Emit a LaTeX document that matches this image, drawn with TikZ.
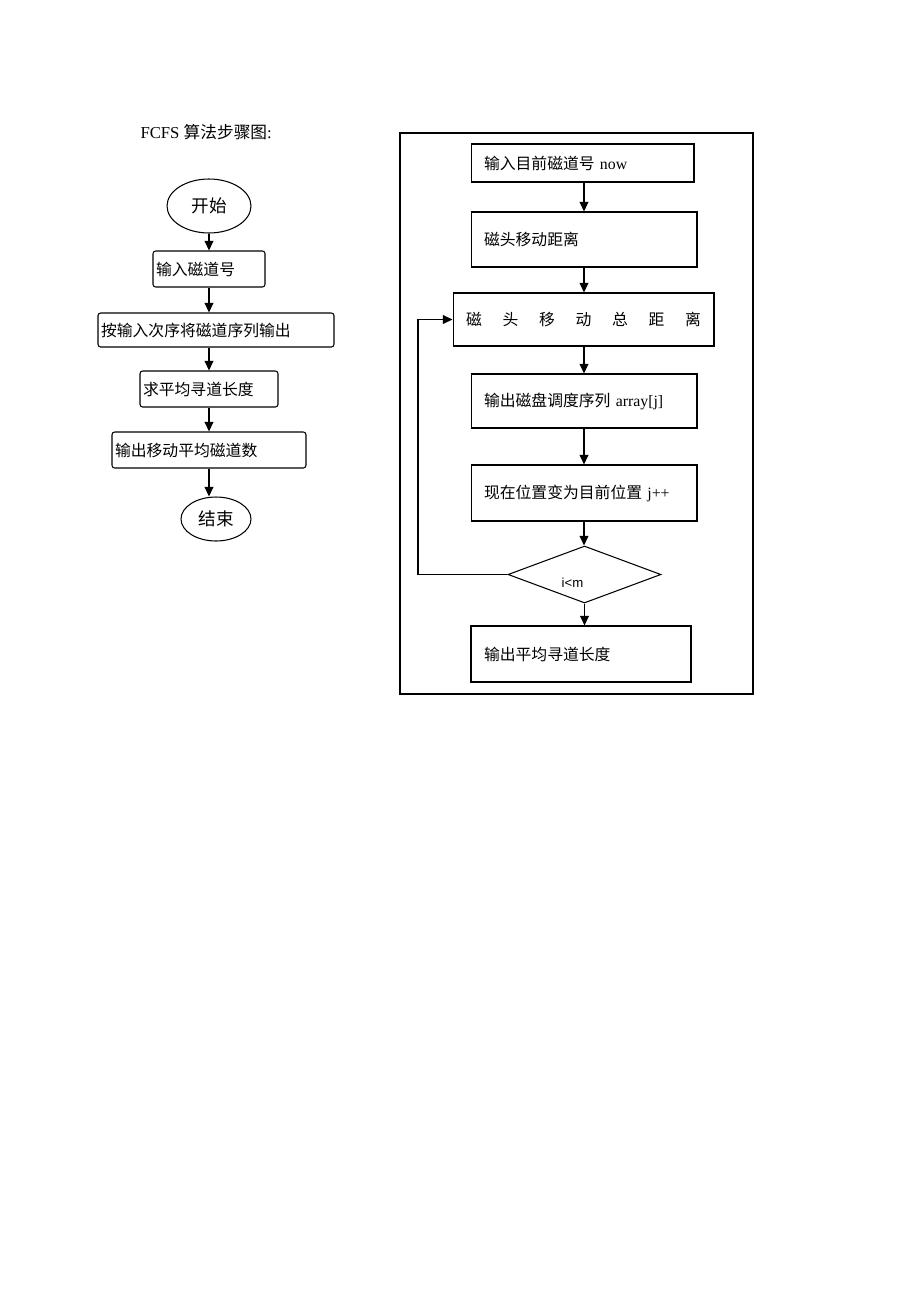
\documentclass[tikz,border=0pt]{standalone}
\usepackage{fontspec}
\setmainfont{Liberation Serif}
\newfontfamily\cjk{Noto Sans CJK SC}
\newfontfamily\sansf{Liberation Sans}
\usetikzlibrary{arrows.meta,shapes.geometric}
\tikzset{
  lbox/.style={draw, rounded corners=1.5pt, align=left, inner xsep=0.06cm, font=\fontsize{9}{11}\selectfont\cjk},
  rbox/.style={draw, align=left, inner xsep=0.26cm, font=\fontsize{9}{11}\selectfont},
  oval/.style={draw, ellipse, inner sep=0pt, font=\fontsize{10}{12}\selectfont\cjk},
  arr/.style={-{Triangle[length=5.5pt,width=5pt]}, line width=0.8pt}
}
\begin{document}
\begin{tikzpicture}[x=0.02cm, y=-0.02cm, line width=0.6pt]
\useasboundingbox (0,0) rectangle (920,1302);

\node[anchor=west, inner sep=0pt, font=\fontsize{9.5}{11}\selectfont] (title) at (140,132) {FCFS {\cjk 算法步骤图}:};

\node[oval, minimum width=1.68cm, minimum height=1.08cm] (start) at (209,206) {开始};
\node[lbox, text width=2.12cm, minimum height=0.72cm] (b1) at (209,269) {输入磁道号};
\node[lbox, text width=4.6cm, minimum height=0.68cm] (b2) at (216,330) {按输入次序将磁道序列输出};
\node[lbox, text width=2.64cm, minimum height=0.72cm] (b3) at (209,389) {求平均寻道长度};
\node[lbox, text width=3.76cm, minimum height=0.72cm] (b4) at (209,450) {输出移动平均磁道数};
\node[oval, minimum width=1.4cm, minimum height=0.88cm] (end) at (216,519) {结束};

\draw[arr] (start) -- (b1);
\draw[arr] (b1.south) -- (b1.south |- b2.north);
\draw[arr] (b3.north |- b2.south) -- (b3.north);
\draw[arr] (b3) -- (b4);
\draw[arr] (b4.south) -- (b4.south |- end.north);

\draw (400,133) rectangle (753,694);

\node[rbox, text width=3.94cm, minimum height=0.76cm] (now) at (582.5,163) {{\cjk 输入目前磁道号} now};
\node[rbox, text width=4.0cm, minimum height=1.1cm] (dist) at (584,239.5) {\cjk 磁头移动距离};
\node[rbox, text width=4.7cm, minimum height=1.06cm] (total) at (583.5,319.5) {\cjk 磁\hfill 头\hfill 移\hfill 动\hfill 总\hfill 距\hfill 离};
\node[rbox, text width=4.0cm, minimum height=1.08cm] (seq) at (584,401) {{\cjk 输出磁盘调度序列} array[j]};
\node[rbox, text width=4.0cm, minimum height=1.12cm] (pos) at (584,493) {{\cjk 现在位置变为目前位置} j++};
\node[draw, diamond, inner sep=0pt, minimum width=3.06cm, minimum height=1.14cm,
  label={[shift={(-12,8)}, font=\fontsize{7.5}{9}\selectfont\sansf]center:i<m}] (cond) at (584.5,574.5) {};
\node[rbox, text width=3.88cm, minimum height=1.12cm] (avg) at (581,654) {\cjk 输出平均寻道长度};
\coordinate (loopx) at (418,400);

\draw[arr] (dist.north |- now.south) -- (dist.north);
\draw[arr] (dist.south) -- (dist.south |- total.north);
\draw[arr] (seq.north |- total.south) -- (seq.north);
\draw[arr] (seq) -- (pos);
\draw[arr] (pos.south) -- (pos.south |- cond.north);
\draw[arr] (cond.south) -- (cond.south |- avg.north);
\draw[arr] (cond.west) -- (cond.west -| loopx) |- (total.west);

\end{tikzpicture}
\end{document}
